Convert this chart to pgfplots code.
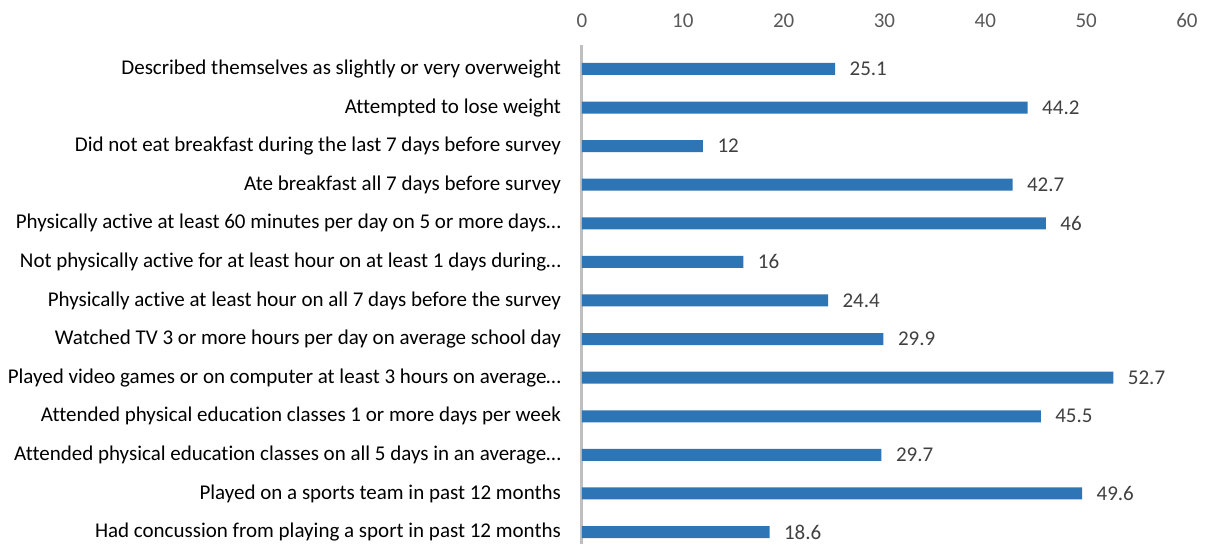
\documentclass[border=0pt]{standalone}
\usepackage{pgfplots}
\pgfplotsset{compat=1.18}
\usepackage{fontspec}
\setmainfont[Ligatures=NoCommon]{Carlito}
\definecolor{barblue}{HTML}{2E75B6}
\definecolor{ticktext}{HTML}{595959}
\definecolor{valtext}{HTML}{404040}
\definecolor{axisgray}{HTML}{BFBFBF}
\begin{document}
\begin{tikzpicture}
\begin{axis}[
  scale only axis,
  width=605pt, height=499pt,
  xbar, bar width=12pt,
  xmin=0, xmax=60,
  ymin=-0.62, ymax=12.31,
  y dir=reverse,
  xtick={0,10,...,60},
  xticklabel pos=upper,
  ytick={0,...,12},
  yticklabels={
    Described themselves as slightly or very overweight,
    Attempted to lose weight,
    Did not eat breakfast during the last 7 days before survey,
    Ate breakfast all 7 days before survey,
    Physically active at least 60 minutes per day on 5 or more days…,
    Not physically active for at least hour on at least 1 days during…,
    Physically active at least hour on all 7 days before the survey,
    Watched TV 3 or more hours per day on average school day,
    Played video games or on computer at least 3 hours on average…,
    Attended physical education classes 1 or more days per week,
    Attended physical education classes on all 5 days in an average…,
    Played on a sports team in past 12 months,
    Had concussion from playing a sport in past 12 months},
  major tick length=0pt,
  axis line style={draw=none},
  x tick label style={font=\fontsize{21}{24}\selectfont, text=ticktext, yshift=14pt},
  y tick label style={font=\fontsize{21}{24}\selectfont, text=black, xshift=-17.5pt},
  /pgf/number format/assume math mode=true,
  extra x ticks={0}, extra x tick labels={},
  extra x tick style={grid=major, major grid style={axisgray, line width=3pt}},
  nodes near coords,
  nodes near coords style={font=\fontsize{21}{24}\selectfont, text=valtext, anchor=west, xshift=11pt},
  point meta=explicit symbolic,
  clip=false,
]
\addplot[fill=barblue, draw=none] table[meta=label] {
x y label
25.1 0 25.1
44.2 1 44.2
12 2 12
42.7 3 42.7
46 4 46
16 5 16
24.4 6 24.4
29.9 7 29.9
52.7 8 52.7
45.5 9 45.5
29.7 10 29.7
49.6 11 49.6
18.6 12 18.6
};
\path (rel axis cs:0,1) ++(-582pt,45pt) coordinate (tl);
\path (rel axis cs:1,0) ++(18pt,0pt) coordinate (br);
\path (tl) (br);
\end{axis}
\end{tikzpicture}
\end{document}
